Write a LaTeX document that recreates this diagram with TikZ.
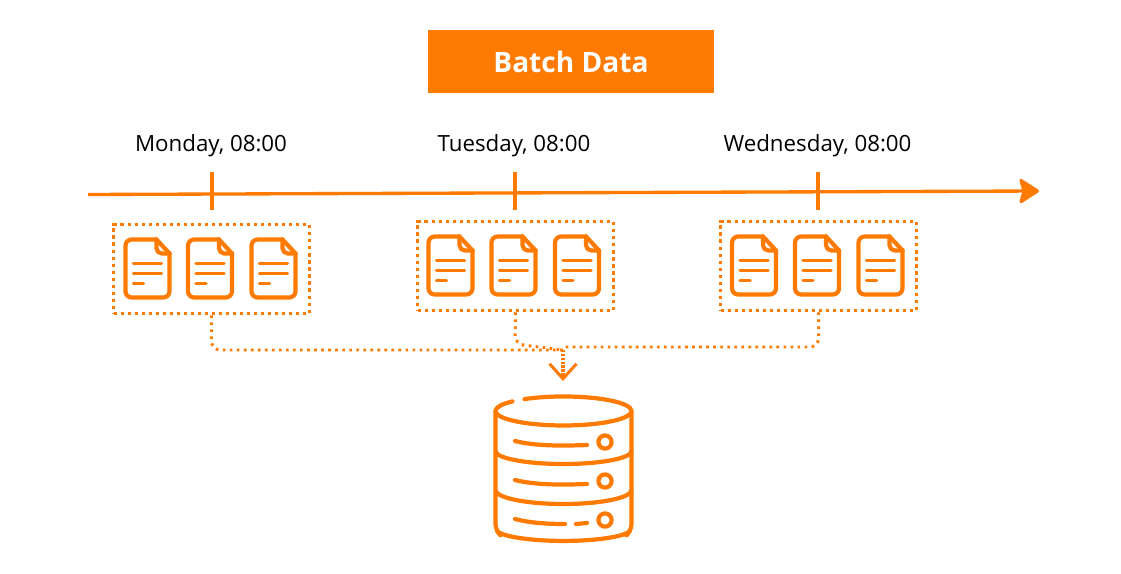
\documentclass[tikz,border=0pt]{standalone}
\usepackage{fontspec}
\setmainfont{Open Sans}
\usetikzlibrary{arrows.meta}
\definecolor{batchOrange}{HTML}{FF7A00}
\tikzset{
  batchBox/.style={rectangle,draw=batchOrange,line width=2pt,dash pattern=on 1.8pt off 2.2pt,minimum width=196*0.02cm,minimum height=89*0.02cm,inner sep=0pt},
  dayLabel/.style={font=\fontsize{12.7}{15}\selectfont,text=black,inner sep=0pt},
  timeLine/.style={draw=batchOrange,line width=1.9pt},
  feedLine/.style={draw=batchOrange,line width=1.7pt,dash pattern=on 1.5pt off 2.5pt,rounded corners=5pt},
  iconLine/.style={draw=batchOrange,line width=2.4pt,line cap=round,line join=round},
  barLine/.style={draw=batchOrange,line width=2pt,line cap=round},
  pics/docIcon/.style={code={
    \draw [iconLine,rounded corners=3.5pt] (31,0) -- (0,0) -- (0,58) -- (44,58) -- (44,14);
    \draw [iconLine] (31,0) -- (44,14);
    \draw [iconLine,rounded corners=3pt] (31,0) -- (31,14) -- (44,14);
    \draw [barLine] (8,24) -- (36,24);
    \draw [barLine] (8,34) -- (36,34);
    \draw [barLine] (8,44) -- (18,44);
  }}
}

\begin{document}
\begin{tikzpicture}[x=0.02cm,y=-0.02cm]
    \useasboundingbox (0,0) rectangle (1121,574);
    \node [rectangle,fill=batchOrange,minimum width=286*0.02cm,minimum height=63*0.02cm,inner sep=0pt,text=white,font=\fontsize{16}{20}\bfseries] (batchTitle) at (571,61.5) {Batch Data};

    \node [dayLabel] (mondayLabel) at (211,146) {Monday, 08:00};
    \node [dayLabel] (tuesdayLabel) at (514,146) {Tuesday, 08:00};
    \node [dayLabel] (wednesdayLabel) at (817.5,146) {Wednesday, 08:00};

    \coordinate (axisStart) at (88,194.5);
    \coordinate (axisEnd) at (1039,191);
    \draw [timeLine,-{Stealth[length=22*0.02cm,width=28*0.02cm,inset=4*0.02cm,round]}] (axisStart) -- (axisEnd);

    \coordinate (mondayTickTop) at (212,172);
    \coordinate (mondayTickEnd) at (212,210);
    \coordinate (tuesdayTickTop) at (515,172);
    \coordinate (tuesdayTickEnd) at (515,210);
    \coordinate (wednesdayTickTop) at (818,172);
    \coordinate (wednesdayTickEnd) at (818,210);
    \draw [timeLine] (mondayTickTop) -- (mondayTickEnd);
    \draw [timeLine] (tuesdayTickTop) -- (tuesdayTickEnd);
    \draw [timeLine] (wednesdayTickTop) -- (wednesdayTickEnd);

    \node [batchBox] (mondayBatch) at (211.5,269) {};
    \node [batchBox] (tuesdayBatch) at (515.5,266) {};
    \node [batchBox] (wednesdayBatch) at (818.5,266) {};

    \pic at (125.5,239.5) {docIcon};
    \pic at (188,239.5) {docIcon};
    \pic at (251.5,239.5) {docIcon};
    \pic at (428.5,236.5) {docIcon};
    \pic at (491.5,236.5) {docIcon};
    \pic at (555,236.5) {docIcon};
    \pic at (732,236.5) {docIcon};
    \pic at (795,236.5) {docIcon};
    \pic at (858.5,236.5) {docIcon};

    \coordinate (mergePoint) at (563,350);
    \coordinate (tuesdayBend) at (515,344);
    \coordinate (wednesdayEnd) at (565,347);
    \coordinate (storeTop) at (563,381);
    \draw [feedLine] (mondayBatch.south) |- (mergePoint);
    \draw [feedLine] (tuesdayBatch.south) -- (tuesdayBend) -- (mergePoint);
    \draw [feedLine] (wednesdayBatch.south) |- (wednesdayEnd);
    \draw [draw=batchOrange,line width=1.8pt,dash pattern=on 1.4pt off 0.8pt,-{Straight Barb[length=15*0.02cm,width=27*0.02cm,line width=1.7pt]}] (mergePoint) -- (storeTop);

    % data store
    \draw [iconLine] (524.5,399.1) arc [start angle=-125,end angle=221.4,x radius=68,y radius=14.5];
    \draw [iconLine,rounded corners=4pt] (495.5,411) -- (495.5,531) -- (500,535);
    \draw [iconLine,rounded corners=4pt] (631.5,411) -- (631.5,531) -- (627,535);
    \draw [iconLine] (495.5,451) arc [start angle=180,end angle=0,x radius=68,y radius=13];
    \draw [iconLine] (495.5,490) arc [start angle=180,end angle=0,x radius=68,y radius=14];
    \draw [iconLine] (497,531) arc [start angle=170,end angle=10,x radius=67.5,y radius=12];
    \draw [iconLine] (515,441) .. controls (535,446) and (560,446) .. (587,445);
    \draw [iconLine] (515,480) .. controls (535,485) and (560,485) .. (587,484);
    \draw [iconLine] (515,519) .. controls (530,523) and (548,524) .. (565,524);
    \draw [iconLine] (576,524) -- (587,523);
    \draw [iconLine] (605,442) circle [radius=6.6];
    \draw [iconLine] (605,481) circle [radius=6.6];
    \draw [iconLine] (605,520) circle [radius=6.6];
\end{tikzpicture}
\end{document}
